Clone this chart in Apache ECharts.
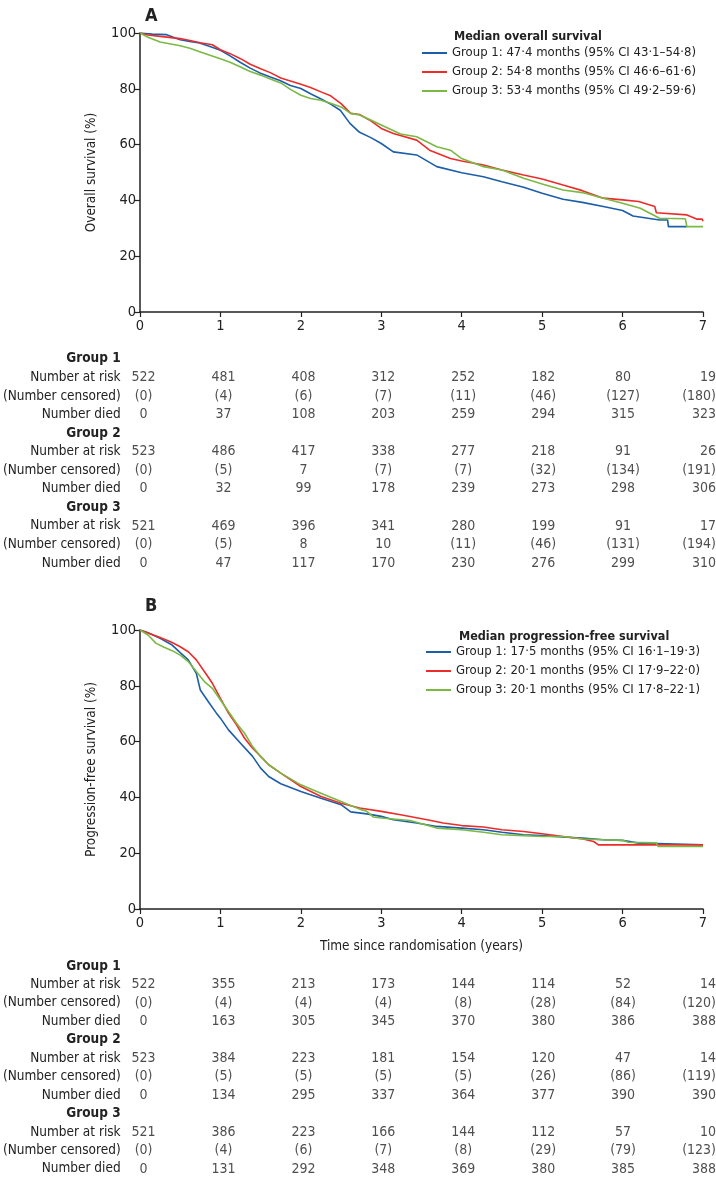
<!DOCTYPE html>
<html>
<head>
<meta charset="utf-8">
<script src="https://cdn.jsdelivr.net/npm/echarts@6/dist/echarts.min.js"></script>
<style>
html,body{margin:0;padding:0;background:#fff;}
#chart{width:716px;height:1180px;}
</style>
</head>
<body>
<div id="chart"></div>
<script>
// ---------- Data ----------
const years = [0, 1, 2, 3, 4, 5, 6, 7];

const osLegend = [
  'Group 1: 47·4 months (95% CI 43·1–54·8)',
  'Group 2: 54·8 months (95% CI 46·6–61·6)',
  'Group 3: 53·4 months (95% CI 49·2–59·6)'
];
const pfsLegend = [
  'Group 1: 17·5 months (95% CI 16·1–19·3)',
  'Group 2: 20·1 months (95% CI 17·9–22·0)',
  'Group 3: 20·1 months (95% CI 17·8–22·1)'
];

// Overall survival (years, %)
const osGroup1 = [[0,100],[0.15,99.6],[0.33,99.4],[0.5,97.6],[0.62,97],[0.74,96.4],[0.87,95.2],[1.0,93.8],[1.12,91.8],[1.24,89.6],[1.37,87.4],[1.49,85.7],[1.62,84.2],[1.74,83],[1.87,81.2],[2.0,80.1],[2.12,78.2],[2.24,76.5],[2.37,74.5],[2.49,72.3],[2.61,67.6],[2.73,64.4],[2.87,62.5],[3.0,60.4],[3.15,57.4],[3.44,56.3],[3.69,52.1],[4.0,49.9],[4.27,48.5],[4.5,46.7],[4.77,44.7],[5.0,42.6],[5.26,40.4],[5.5,39.3],[5.76,37.8],[6.0,36.4],[6.13,34.4],[6.46,33],[6.56,33],[6.57,30.6],[6.8,30.6]];
const osGroup2 = [[0,100],[0.1,99.3],[0.25,98.8],[0.5,98],[0.62,97.3],[0.75,96.5],[0.9,95.8],[1.0,94],[1.12,92.6],[1.25,90.8],[1.37,88.8],[1.5,87.2],[1.62,85.8],[1.75,83.9],[1.87,82.8],[2.0,81.6],[2.12,80.5],[2.25,78.9],[2.37,77.5],[2.5,74.7],[2.62,71.2],[2.73,70.8],[2.87,68.5],[3.0,65.8],[3.15,64],[3.44,61.6],[3.6,58],[3.86,55],[4.0,54.1],[4.27,52.7],[4.5,50.9],[4.77,49.1],[5.0,47.7],[5.26,45.5],[5.5,43.5],[5.76,40.8],[6.0,40.2],[6.2,39.6],[6.4,37.8],[6.42,35.6],[6.8,34.8],[6.92,33.3],[6.99,33.3],[7.0,32.5]];
const osGroup3 = [[0,100],[0.1,98.5],[0.25,96.8],[0.5,95.4],[0.62,94.5],[0.75,93.2],[0.87,92],[1.0,90.8],[1.12,89.5],[1.25,87.8],[1.37,86.2],[1.5,84.9],[1.62,83.5],[1.75,82.1],[1.87,79.8],[2.0,77.7],[2.12,76.5],[2.25,75.9],[2.37,74.8],[2.5,73.5],[2.62,71.2],[2.73,70.6],[2.87,68.8],[3.0,67],[3.24,63.8],[3.44,62.8],[3.69,59.2],[3.86,58],[4.0,55],[4.27,52.1],[4.5,50.9],[4.77,47.9],[5.0,45.9],[5.26,43.7],[5.5,42.8],[5.76,40.8],[6.0,39],[6.22,37.2],[6.46,33.6],[6.78,33.4],[6.8,30.6],[7.0,30.6]];

// Progression-free survival (years, %)
const pfsGroup1 = [[0,100],[0.1,99],[0.25,97],[0.4,94.6],[0.5,91.9],[0.6,89.3],[0.7,84.5],[0.75,78.5],[0.85,74.3],[0.95,70.2],[1.0,68.4],[1.1,64.2],[1.25,59.4],[1.4,54.7],[1.5,50.5],[1.6,47.5],[1.75,44.9],[2.0,42.1],[2.25,39.7],[2.5,37.4],[2.62,34.8],[2.82,34.1],[3.0,33.2],[3.15,32],[3.44,30.8],[3.69,29.6],[4.0,29],[4.27,28.4],[4.5,27.5],[4.77,26.6],[5.0,26.3],[5.26,25.8],[5.5,25.4],[5.76,24.8],[6.0,24.6],[6.2,23.6],[7.0,23.0]];
const pfsGroup2 = [[0,100],[0.25,97.3],[0.4,95.5],[0.5,94],[0.6,92.2],[0.7,89.3],[0.8,85.1],[0.9,80.9],[1.0,75.5],[1.1,70.2],[1.2,66],[1.3,61.2],[1.4,57.6],[1.5,54.7],[1.6,51.7],[1.75,48.7],[2.0,43.9],[2.25,40.3],[2.5,37.9],[2.73,36.2],[3.0,35],[3.24,33.8],[3.57,32],[3.77,30.8],[4.0,29.9],[4.27,29.4],[4.5,28.4],[4.77,27.8],[5.0,27],[5.26,26],[5.51,25.1],[5.64,24.2],[5.7,23],[7.0,23]];
const pfsGroup3 = [[0,100],[0.1,98.2],[0.2,95.2],[0.3,93.8],[0.4,92.6],[0.5,91],[0.6,88.7],[0.7,85.1],[0.8,81.5],[0.9,79.1],[1.0,74.9],[1.1,70.8],[1.2,66.6],[1.3,63],[1.4,58.2],[1.5,54.7],[1.6,51.7],[1.75,48.7],[2.0,44.5],[2.25,41.5],[2.5,38.5],[2.73,35.8],[2.82,35],[2.9,33],[3.0,32.6],[3.36,31.7],[3.69,29],[4.0,28.4],[4.27,27.5],[4.5,26.6],[4.77,26.3],[5.0,26],[5.26,26],[5.51,25.1],[5.76,24.8],[6.0,24.6],[6.07,23.9],[6.42,23.7],[6.44,22.4],[7.0,22.4]];

// Number-at-risk table rows
const rowLabels = ['Group 1','Number at risk','(Number censored)','Number died',
                   'Group 2','Number at risk','(Number censored)','Number died',
                   'Group 3','Number at risk','(Number censored)','Number died'];

const osRiskG1 = ['522','481','408','312','252','182','80','19'];
const osCensG1 = ['(0)','(4)','(6)','(7)','(11)','(46)','(127)','(180)'];
const osDiedG1 = ['0','37','108','203','259','294','315','323'];
const osRiskG2 = ['523','486','417','338','277','218','91','26'];
const osCensG2 = ['(0)','(5)','7','(7)','(7)','(32)','(134)','(191)'];
const osDiedG2 = ['0','32','99','178','239','273','298','306'];
const osRiskG3 = ['521','469','396','341','280','199','91','17'];
const osCensG3 = ['(0)','(5)','8','10','(11)','(46)','(131)','(194)'];
const osDiedG3 = ['0','47','117','170','230','276','299','310'];

const pfsRiskG1 = ['522','355','213','173','144','114','52','14'];
const pfsCensG1 = ['(0)','(4)','(4)','(4)','(8)','(28)','(84)','(120)'];
const pfsDiedG1 = ['0','163','305','345','370','380','386','388'];
const pfsRiskG2 = ['523','384','223','181','154','120','47','14'];
const pfsCensG2 = ['(0)','(5)','(5)','(5)','(5)','(26)','(86)','(119)'];
const pfsDiedG2 = ['0','134','295','337','364','377','390','390'];
const pfsRiskG3 = ['521','386','223','166','144','112','57','10'];
const pfsCensG3 = ['(0)','(4)','(6)','(7)','(8)','(29)','(79)','(123)'];
const pfsDiedG3 = ['0','131','292','348','369','380','385','388'];

// ---------- Styling ----------
const FONT = "'Liberation Sans Narrow', 'DejaVu Sans Condensed', 'Roboto', sans-serif";
const colors = ['#1c5ea8', '#ec2c2a', '#79b944'];
const TXT = '#222';

function tableData(rows) {
  const out = [];
  rows.forEach(([r, vals]) => {
    vals.forEach((v, i) => {
      const item = { value: [years[i], r], t: v };
      // keep the last column inside the page edge
      if (i === years.length - 1) item.label = { align: 'right', offset: [13, 0] };
      out.push(item);
    });
  });
  return out;
}

const osTable = tableData([
  [1, osRiskG1], [2, osCensG1], [3, osDiedG1],
  [5, osRiskG2], [6, osCensG2], [7, osDiedG2],
  [9, osRiskG3], [10, osCensG3], [11, osDiedG3]
]);
const pfsTable = tableData([
  [1, pfsRiskG1], [2, pfsCensG1], [3, pfsDiedG1],
  [5, pfsRiskG2], [6, pfsCensG2], [7, pfsDiedG2],
  [9, pfsRiskG3], [10, pfsCensG3], [11, pfsDiedG3]
]);

const L = 140, R = 13;

function plotX(gridIndex, name) {
  return {
    gridIndex, type: 'value', min: 0, max: 7, interval: 1,
    name: name || '', nameLocation: 'middle', nameGap: 30,
    nameTextStyle: { fontFamily: FONT, fontSize: 13.5, color: TXT },
    axisLine: { show: true, onZero: false, lineStyle: { color: '#222', width: 1.5 } },
    axisTick: { show: true, length: 5, lineStyle: { color: '#222', width: 1.2 } },
    axisLabel: { fontFamily: FONT, fontSize: 14.5, color: TXT, margin: 7 },
    splitLine: { show: false }
  };
}
function plotY(gridIndex, name) {
  return {
    gridIndex, type: 'value', min: 0, max: 100, interval: 20,
    name, nameLocation: 'middle', nameGap: 42, nameRotate: 90,
    nameTextStyle: { fontFamily: FONT, fontSize: 13.5, color: TXT },
    axisLine: { show: true, lineStyle: { color: '#222', width: 1.5 } },
    axisTick: { show: true, length: 5, lineStyle: { color: '#222', width: 1.2 } },
    axisLabel: { fontFamily: FONT, fontSize: 14.5, color: TXT, margin: 4 },
    splitLine: { show: false }
  };
}
function tableX(gridIndex) {
  return { gridIndex, type: 'value', min: 0, max: 7, interval: 1, show: false };
}
function tableY(gridIndex) {
  return {
    gridIndex, type: 'category', data: rowLabels, inverse: true,
    axisLine: { show: false }, axisTick: { show: false }, splitLine: { show: false },
    axisLabel: {
      interval: 0, margin: 23, fontFamily: FONT, fontSize: 13.5, color: TXT,
      formatter: v => v.indexOf('Group') === 0 ? '{b|' + v + '}' : v,
      rich: { b: { fontFamily: FONT, fontSize: 13.5, fontWeight: 'bold', color: TXT } }
    }
  };
}
function kmSeries(name, data, c, xi, yi) {
  return {
    name, type: 'line', data, xAxisIndex: xi, yAxisIndex: yi,
    showSymbol: false, symbol: 'none', lineStyle: { color: c, width: 1.6 },
    itemStyle: { color: c }, animation: false, silent: true
  };
}
function tableSeries(data, xi, yi) {
  return {
    type: 'scatter', data, xAxisIndex: xi, yAxisIndex: yi,
    symbolSize: 0, animation: false, silent: true,
    label: {
      show: true, position: 'inside', formatter: p => p.data.t,
      fontFamily: FONT, fontSize: 14, color: TXT
    }
  };
}

const legendText = { fontFamily: FONT, fontSize: 13, color: TXT, lineHeight: 14 };

const option = {
  animation: false,
  backgroundColor: '#fff',
  textStyle: { fontFamily: FONT },
  title: [
    { text: 'A', left: 140, top: 2, textStyle: { fontFamily: FONT, fontSize: 18, fontWeight: 'bold', color: TXT } },
    { text: 'B', left: 140, top: 592, textStyle: { fontFamily: FONT, fontSize: 18, fontWeight: 'bold', color: TXT } },
    { text: 'Median overall survival', left: 449, top: 25, textStyle: { fontFamily: FONT, fontSize: 12.5, fontWeight: 'bold', color: TXT } },
    { text: 'Median progression-free survival', left: 454, top: 625, textStyle: { fontFamily: FONT, fontSize: 12.5, fontWeight: 'bold', color: TXT } }
  ],
  legend: [
    {
      data: osLegend, orient: 'vertical', left: 422, top: 46, selectedMode: false,
      icon: 'rect', itemWidth: 25, itemHeight: 2, itemGap: 5, padding: 0,
      textStyle: legendText
    },
    {
      data: pfsLegend, orient: 'vertical', left: 426, top: 645, selectedMode: false,
      icon: 'rect', itemWidth: 25, itemHeight: 2, itemGap: 5, padding: 0,
      textStyle: legendText
    }
  ],
  grid: [
    { left: L, right: R, top: 33, height: 279 },
    { left: L, right: R, top: 349.7, height: 222.6 },
    { left: L, right: R, top: 630, height: 279 },
    { left: L, right: R, top: 956.8, height: 221.4 }
  ],
  xAxis: [ plotX(0), tableX(1), plotX(2, 'Time since randomisation (years)'), tableX(3) ],
  yAxis: [ plotY(0, 'Overall survival (%)'), tableY(1), plotY(2, 'Progression-free survival (%)'), tableY(3) ],
  series: [
    kmSeries(osLegend[0], osGroup1, colors[0], 0, 0),
    kmSeries(osLegend[1], osGroup2, colors[1], 0, 0),
    kmSeries(osLegend[2], osGroup3, colors[2], 0, 0),
    tableSeries(osTable, 1, 1),
    kmSeries(pfsLegend[0], pfsGroup1, colors[0], 2, 2),
    kmSeries(pfsLegend[1], pfsGroup2, colors[1], 2, 2),
    kmSeries(pfsLegend[2], pfsGroup3, colors[2], 2, 2),
    tableSeries(pfsTable, 3, 3)
  ]
};

const chart = echarts.init(document.getElementById('chart'), null, { renderer: 'canvas' });
chart.setOption(option);
</script>
</body>
</html>
